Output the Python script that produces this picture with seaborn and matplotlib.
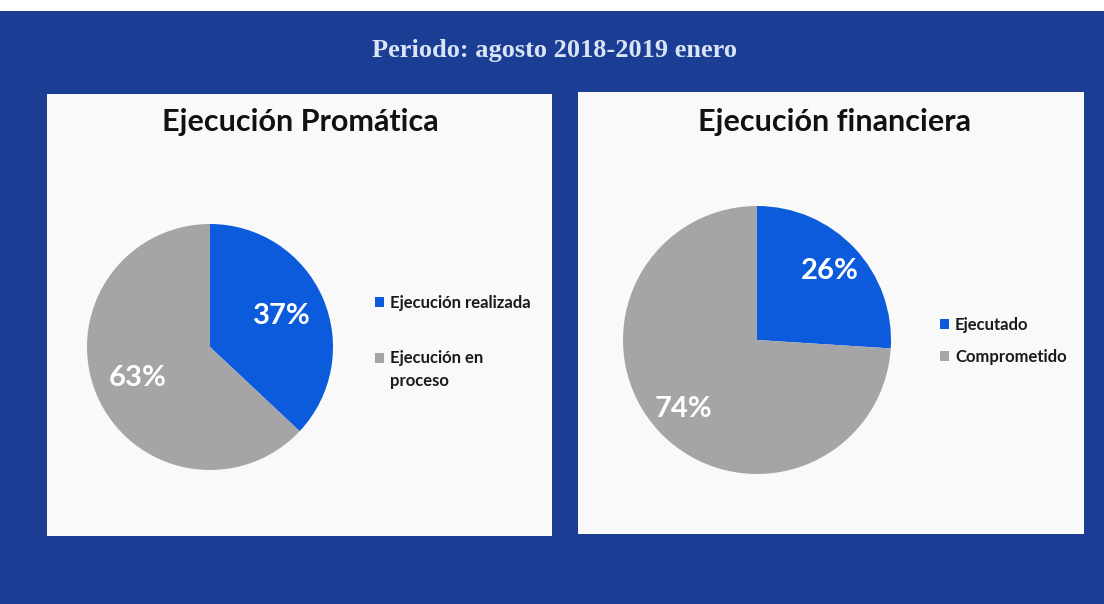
import matplotlib

matplotlib.use("Agg")

import matplotlib.pyplot as plt
from matplotlib.patches import Rectangle, Patch
from matplotlib.legend_handler import HandlerPatch
import seaborn as sns

# data
subtitle = "Periodo: agosto 2018-2019 enero"
left_title = "Ejecución Promática"
left_labels = ["Ejecución realizada", "Ejecución en\nproceso"]
left_values = [37, 63]
right_title = "Ejecución financiera"
right_labels = ["Ejecutado", "Comprometido"]
right_values = [26, 74]

sns.set_theme(style="white")
plt.rcParams["font.family"] = ["Lato", "DejaVu Sans"]

W, H = 1104, 604
BG = "#1c3d94"
PANEL = "#f9f9f9"
colors = sns.color_palette(["#0b5bdc", "#a5a5a8"])

fig = plt.figure(figsize=(W / 100, H / 100), dpi=100, facecolor=BG)


def fx(px):
    return px / W


def fy(py):
    # top-based pixel -> figure fraction
    return 1 - py / H


# white strip at the very top (cut off heading of the slide)
fig.patches.append(Rectangle((0, fy(11)), 1, 11 / H, transform=fig.transFigure,
                             facecolor="white", edgecolor="none", zorder=-2))

# white chart panels
for x0, x1, y0, y1 in [(47, 552, 94, 536), (578, 1084, 92, 534)]:
    fig.patches.append(Rectangle((fx(x0), fy(y1)), fx(x1 - x0), (y1 - y0) / H,
                                 transform=fig.transFigure, facecolor=PANEL,
                                 edgecolor="none", zorder=-2))

fig.text(fx(554), fy(50), subtitle, ha="center", va="center", color="#d9e4f5",
         fontsize=19, fontweight="bold", family="Liberation Serif")


def first_line_patch(legend, orig_handle, xdescent, ydescent, width, height, fontsize):
    # square next to the first line of a two-line label
    return Rectangle((-xdescent, -ydescent + 0.7 * fontsize), width, height)


def draw_pie(cx, cy, r, values, title, title_x, labels, leg_x, leg_y, spacing, pctdist):
    ax = fig.add_axes([fx(cx - r), fy(cy + r), fx(2 * r), 2 * r / H])
    wedges, _, autotexts = ax.pie(
        values,
        colors=colors,
        startangle=90,
        counterclock=False,
        autopct="%d%%",
        pctdistance=pctdist,
        wedgeprops={"linewidth": 0},
    )
    for t in autotexts:
        t.set_color("white")
        t.set_fontsize(21)
        t.set_fontweight("bold")
    ax.set_xlim(-1, 1)
    ax.set_ylim(-1, 1)
    ax.set_aspect("equal")
    ax.axis("off")

    fig.text(fx(title_x), fy(122), title, ha="center", va="center",
             fontsize=22, fontweight="bold", color="#111111")

    handles = [Patch(facecolor=c, edgecolor="none") for c in colors]
    handler_map = {}
    for h, lab in zip(handles, labels):
        if "\n" in lab:
            handler_map[h] = HandlerPatch(patch_func=first_line_patch)
    leg = fig.legend(
        handles,
        labels,
        loc="center left",
        bbox_to_anchor=(fx(leg_x), fy(leg_y)),
        bbox_transform=fig.transFigure,
        frameon=False,
        handlelength=0.55,
        handleheight=0.55,
        handletextpad=0.35,
        labelspacing=spacing,
        handler_map=handler_map,
        prop={"weight": "bold", "size": 12},
    )
    for t in leg.get_texts():
        t.set_linespacing(1.55)
        t.set_color("#1a1a1a")


draw_pie(210, 347, 123, left_values, left_title, 300, left_labels, 360, 342, 2.3, 0.64)
draw_pie(757, 340, 134, right_values, right_title, 835, right_labels, 925, 341, 1.0, 0.75)

fig.savefig("out.png", dpi=100, facecolor=BG)
plt.close(fig)
